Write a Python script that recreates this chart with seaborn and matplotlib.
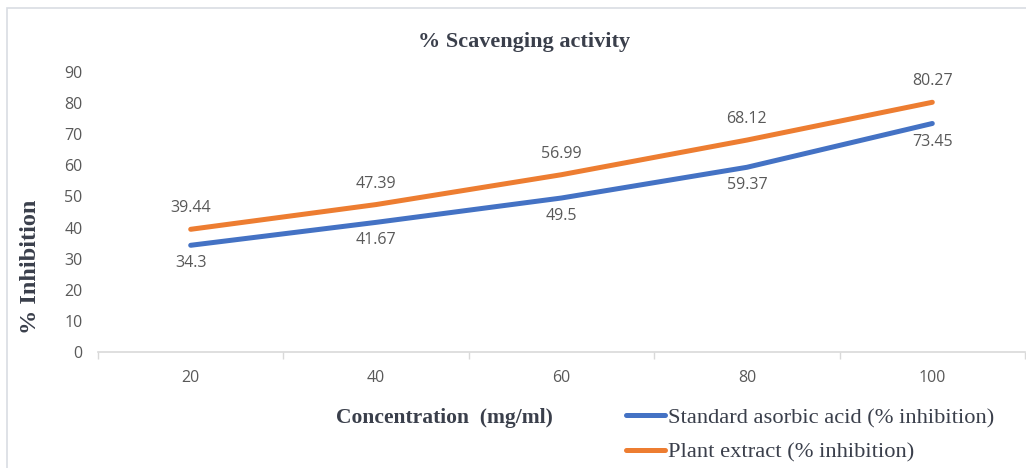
import matplotlib
matplotlib.use("Agg")
import matplotlib.pyplot as plt
from matplotlib.patches import Rectangle
import seaborn as sns
import pandas as pd

# Concentrations and % inhibition values for the two samples
concentrations = ["20", "40", "60", "80", "100"]
ascorbic_acid = [34.3, 41.67, 49.5, 59.37, 73.45]
plant_extract = [39.44, 47.39, 56.99, 68.12, 80.27]
y_ticks = [0, 10, 20, 30, 40, 50, 60, 70, 80, 90]

series_names = ["Standard asorbic acid (% inhibition)", "Plant extract (% inhibition)"]
series_values = [ascorbic_acid, plant_extract]
colors = ["#4472C4", "#ED7D31"]

df = pd.DataFrame({
    "Concentration": concentrations * 2,
    "Inhibition": ascorbic_acid + plant_extract,
    "Series": [series_names[0]] * len(concentrations) + [series_names[1]] * len(concentrations),
})

sns.set_theme(style="white")
plt.rcParams["font.family"] = ["Open Sans", "DejaVu Sans"]

W, H = 1026, 468
fig = plt.figure(figsize=(W / 100, H / 100), dpi=100)
ax = fig.add_axes([98 / W, 1 - 352 / H, 927 / W, 280 / H])

# Chart frame (open at the right and bottom edges)
fig.patches.append(Rectangle((7 / W, -0.05), 1.0, 1.05 - 8 / H, transform=fig.transFigure,
                             fill=False, edgecolor="#d9dde3", linewidth=1.2, zorder=0))

sns.lineplot(data=df, x="Concentration", y="Inhibition", hue="Series",
             palette=dict(zip(series_names, colors)), linewidth=3.6, ax=ax,
             legend=False, sort=False)
for line in ax.get_lines():
    line.set_solid_capstyle("round")
    line.set_solid_joinstyle("round")

ax.set_xlim(-0.5, len(concentrations) - 0.5)
ax.set_ylim(0, 90)
ax.set_yticks(y_ticks)
ax.set_yticklabels([str(t) for t in y_ticks])

ax.set_xticks(range(len(concentrations)))
ax.set_xticklabels(concentrations)
ax.set_xticks([i - 0.5 for i in range(len(concentrations) + 1)], minor=True)

label_color = "#595959"
ax.tick_params(axis="x", which="major", length=0, pad=13, labelsize=11.5, labelcolor=label_color)
ax.tick_params(axis="x", which="minor", length=5, width=1, color="#d9d9d9", direction="out", bottom=True)
ax.tick_params(axis="y", length=0, pad=11, labelsize=11.5, labelcolor=label_color)

for side in ["top", "right", "left"]:
    ax.spines[side].set_visible(False)
ax.spines["bottom"].set_color("#d9d9d9")
ax.spines["bottom"].set_linewidth(1.2)
ax.grid(False)

# Value labels: plant extract above the line, ascorbic acid below
for i, (a, p) in enumerate(zip(ascorbic_acid, plant_extract)):
    ax.annotate(f"{p:g}", (i, p), xytext=(0, 15), textcoords="offset points",
                ha="center", va="center", fontsize=11.5, color=label_color)
    ax.annotate(f"{a:g}", (i, a), xytext=(0, -13), textcoords="offset points",
                ha="center", va="center", fontsize=11.5, color=label_color)

serif = ["Liberation Serif", "DejaVu Serif"]
title_color = "#3a3f4b"
fig.text(524 / W, 1 - 42 / H, "% Scavenging activity", family=serif, fontweight="bold",
         fontsize=16, color=title_color, ha="center", va="center")

ax.set_xlabel("Concentration  (mg/ml)", family=serif, fontweight="bold", fontsize=15.5,
              color=title_color)
ax.xaxis.label.set_va("center")
ax.xaxis.set_label_coords((444 - 98) / 927, (352 - 418) / 280)

ax.set_ylabel("% Inhibition", family=serif, fontweight="bold", fontsize=17.5, color=title_color)
ax.yaxis.label.set_va("center")
ax.yaxis.set_label_coords((30 - 98) / 927, (352 - 267) / 280)

# Legend below the plot on the right
handles = [plt.Line2D([], [], color=c, linewidth=3.6) for c in colors]
leg = fig.legend(handles, series_names, loc="center left",
                 bbox_to_anchor=(626 / W, 1 - 435 / H), frameon=False,
                 prop={"family": serif, "size": 16.2}, handlelength=1.75,
                 handletextpad=0.12, labelspacing=0.62, borderpad=0, borderaxespad=0)
for t in leg.get_texts():
    t.set_color("#3a3f4b")

fig.savefig("out.png", dpi=100)
